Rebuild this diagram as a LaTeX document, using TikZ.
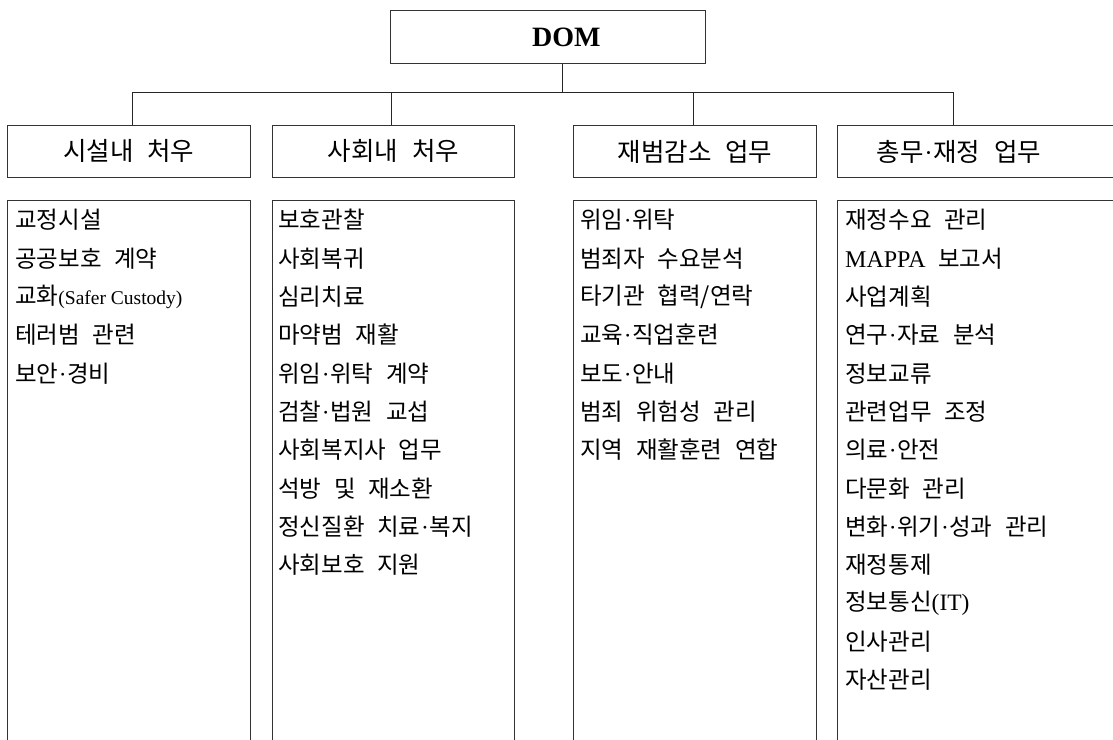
\documentclass[tikz,border=0pt]{standalone}
\usepackage{fontspec}
\setmainfont[WordSpace=2.4]{Noto Sans CJK KR}
\newfontfamily\latfont{Liberation Serif}
\newcommand\latx[1]{{\latfont #1}}
\newcommand\mdt{{\latfont\kern0.5pt·\kern0.5pt}}
\tikzset{
  box/.style={draw=black!80, line width=0.9pt, inner sep=0pt},
  conn/.style={draw=black!85, line width=0.9pt},
  hdr/.style={box, minimum height=52pt, font=\fontsize{25.5}{27}\selectfont},
  itemtext/.style={inner sep=0pt, anchor=west, font=\fontsize{23.5}{25}\selectfont},
  content/.style={box, minimum height=560pt, anchor=north west}
}
\begin{document}
\begin{tikzpicture}[x=1pt,y=-1pt]
\clip (0,0) rectangle (1113,739);
\fill[white] (0,0) rectangle (1113,739);
% top node
\node[box, minimum width=315pt, minimum height=53pt, anchor=north west,
      font=\latfont\bfseries\fontsize{28}{30}\selectfont] (dom) at (390,10)
      {\hspace{37pt}DOM};
% headers
\node[hdr, minimum width=243pt, anchor=north west] (h1) at (7,125) {시설내 처우};
\node[hdr, minimum width=242pt, anchor=north west] (h2) at (272,125) {사회내 처우};
\node[hdr, minimum width=243pt, anchor=north west] (h3) at (573,125) {재범감소 업무};
\node[hdr, minimum width=300pt, anchor=north west] (h4) at (837,125)
      {\makebox[300pt][l]{\makebox[243pt]{총무\mdt 재정 업무}}};
% connectors
\coordinate (bus) at (562,92);
\coordinate (d1) at (132,92);
\coordinate (d2) at (391,92);
\coordinate (d3) at (693,92);
\coordinate (d4) at (953,92);
\draw[conn] (dom.south -| bus) -- (bus);
\draw[conn] (d1) -- (d4);
\draw[conn] (d1) -- (d1 |- h1.north);
\draw[conn] (d2) -- (d2 |- h2.north);
\draw[conn] (d3) -- (d3 |- h3.north);
\draw[conn] (d4) -- (d4 |- h4.north);
% content boxes
\node[content, minimum width=243pt] (c1) at (7,200) {};
\node[content, minimum width=242pt] (c2) at (272,200) {};
\node[content, minimum width=243pt] (c3) at (573,200) {};
\node[content, minimum width=300pt] (c4) at (837,200) {};
% content texts
\foreach \t [count=\i from 0] in {교정시설, 공공보호 계약,
  {교화\latx{\fontsize{19.5}{21}\selectfont(Safer Custody)}}, 테러범 관련, 보안\mdt 경비}
  \node[itemtext] (ta\i) at (15,{220+38.33*\i}) {\t};
\foreach \t [count=\i from 0] in {보호관찰, 사회복귀, 심리치료, 마약범 재활,
  위임\mdt 위탁 계약, 검찰\mdt 법원 교섭, 사회복지사 업무, 석방 및 재소환,
  정신질환 치료\mdt 복지, 사회보호 지원}
  \node[itemtext] (tb\i) at (278,{220+38.33*\i}) {\t};
\foreach \t [count=\i from 0] in {위임\mdt 위탁, 범죄자 수요분석, 타기관 협력/연락,
  교육\mdt 직업훈련, 보도\mdt 안내, 범죄 위험성 관리, 지역 재활훈련 연합}
  \node[itemtext] (tc\i) at (580,{220+38.33*\i}) {\t};
\foreach \t [count=\i from 0] in {재정수요 관리, {\latx{\fontsize{24}{26}\selectfont MAPPA} 보고서}, 사업계획,
  연구\mdt 자료 분석, 정보교류, 관련업무 조정, 의료\mdt 안전, 다문화 관리,
  변화\mdt 위기\mdt 성과 관리, 재정통제, {정보통신\latx{(IT)}}, 인사관리, 자산관리}
  \node[itemtext] (td\i) at (845,{220+38.33*\i}) {\t};
\end{tikzpicture}
\end{document}
